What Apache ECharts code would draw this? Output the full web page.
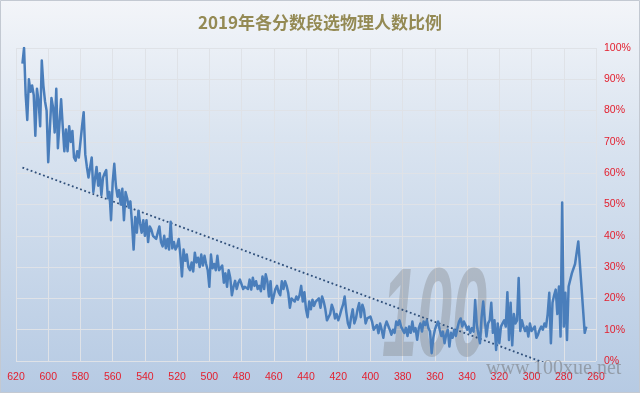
<!DOCTYPE html>
<html>
<head>
<meta charset="utf-8">
<script src="https://cdn.jsdelivr.net/npm/echarts@6/dist/echarts.min.js"></script>
<style>
html,body{margin:0;padding:0;background:#fff;}
#chart{width:640px;height:393px;}
</style>
</head>
<body>
<div id="chart"></div>
<script>
// Scores (x) and ratio of physics choosers in % (y)
const scores = [
616,615,614,613,612,611,610,609,608,607,606,605,604,603,602,601,600,599,598,597,596,595,594,593,592,591,590,589,588,587,586,585,584,583,582,581,580,579,578,577,576,575,574,573,572,571,570,569,568,567,566,565,564,563,562,561,560,559,558,557,556,555,554,553,552,551,550,549,
548,547,546,545,544,543,542,541,540,539,538,537,536,535,534,533,532,531,530,529,528,527,526,525,524,523,522,521,520,519,518,517,516,515,514,513,512,511,510,509,508,507,506,505,504,503,502,501,500,499,498,497,496,495,494,493,492,491,490,489,488,487,486,485,484,483,482,481,480,479,478,
477,476,475,474,473,472,471,470,469,468,467,466,465,464,463,462,461,460,459,458,457,456,455,454,453,452,451,450,449,448,447,446,445,444,443,442,441,440,439,438,437,436,435,434,433,432,431,430,429,428,427,426,425,424,423,422,421,420,419,418,417,416,415,414,413,412,411,410,409,408,407,406,405,
404,403,402,401,400,399,398,397,396,395,394,393,392,391,390,389,388,387,386,385,384,383,382,381,380,379,378,377,376,375,374,373,372,371,370,369,368,367,366,365,364,363,362,361,360,359,358,357,356,355,354,353,352,351,350,349,348,347,346,345,344,343,342,341,340,339,338,337,336,335,334,
333,332,331,330,329,328,327,326,325,324,323,322,321,320,319,318,317,316,315,314,313,312,311,310,309,308,307,306,305,304,303,302,301,300,299,298,297,296,295,294,293,292,291,290,289,288,287,286,285,284,283,
282,281,280,279,278,277,275,273,271,267,266
];
const ratios = [
95,100,85,77,90,86,88,85,72,87,83,75,96,88,83,80,63.5,74,84,81,73,87,68,76,83.6,75,67,74,67,75,70,73.5,65,64,67,65,70,75,79.5,66,62,58.6,59,65,54,58,62,56,60,53,58.6,60,61,52,54,45,57,63,56,52.5,54.6,50,55,45,54,52,49,51,
44,35.6,46,41,48,44,41,45,40,45,38,43,42,40,40.5,39,39,43,38,36.6,40,36,39,35.6,44.5,36,38,35.6,36.7,39,34,27,35.6,32,34,30,29,31.5,28.6,34.6,31.5,33,30,34,30.5,33.6,31,29,23.7,34,29.6,31,29,33.6,29,28.6,30.5,25,28,23.7,29,26.5,21,23.7,25.6,23,25,26,25.6,23,23.7,
23.8,23,26,22.8,26.6,24,25.5,23,24,22.3,27,23,27.7,25.5,20.6,25.5,18.5,18,23,24,22,21,25.5,23,25.5,24,21.7,17,20,20.6,19,20.6,19.6,21,24,19,22,16.5,14,19,16.5,19.6,17.6,19,18.5,20,17,20.6,19,16.5,13,14,15,18,16.5,13.6,15,13,14.6,16.5,18,20.6,15.7,12,10.6,14,16.5,12,13.6,16.5,18.5,14,18,
16.3,12,13.6,13,14.2,12.6,10,9.4,11.5,8.9,12,10,7.4,11,12.6,12,10,8.4,10,9,12.6,11.5,13,11,11.5,9,10.6,8,11,9,12.6,9.4,10.5,6.8,10.5,12,9.4,12.6,11.5,13,10.5,9.4,2.5,7.4,10,11.5,12.6,10,8,9.4,5.7,8.4,10,4.6,9,7.4,10,8,10.5,12.6,13.6,11,12.6,11.5,10,11,9,10.5,9.4,19.5,11.5,
11,5.7,14,19,13,7.8,12,13,18.6,9,13,3.5,12,5.7,11,12,13,11,22,6.7,18.6,5,15,12,13,26.5,9.6,13,11,9.6,11,7.8,12,9.6,9,11,7.4,8.4,10,11,10,12,11,15,21.8,5.7,18.6,21,22.8,15,23.8,
7.8,50.6,11,21.8,6.7,23.8,28,31,38.2,9,11
];
// Linear trend line end points (score, %)
const trendScores = [616, 266];
const trendRatios = [61.8, -5.6];
// Axis ticks
const xTicks = [620,600,580,560,540,520,500,480,460,440,420,400,380,360,340,320,300,280,260];
const yTicks = [0,10,20,30,40,50,60,70,80,90,100];

const chart = echarts.init(document.getElementById('chart'), null, {renderer:'canvas'});
const lineData = scores.map((s,i)=>[s, ratios[i]]);
const trendData = trendScores.map((s,i)=>[s, trendRatios[i]]);
const labelColor = '#e3202f';

chart.setOption({
  animation:false,
  backgroundColor:{
    type:'linear', x:0, y:0, x2:0, y2:1,
    colorStops:[{offset:0,color:'#f3f5f9'},{offset:0.35,color:'#dae4f0'},{offset:1,color:'#b6cae3'}]
  },
  title:{
    text:'2019年各分数段选物理人数比例',
    left:'center', top:9,
    textStyle:{fontFamily:'Noto Sans CJK SC', fontSize:17, fontWeight:'bold', color:'#948a54'}
  },
  grid:{left:16, right:44, top:48, bottom:32},
  xAxis:{
    type:'value', inverse:true,
    min:xTicks[xTicks.length-1], max:xTicks[0], interval:20,
    axisLine:{show:false}, axisTick:{show:false},
    axisLabel:{color:labelColor, fontSize:10.5, fontFamily:'Liberation Sans', margin:11},
    splitLine:{show:true, lineStyle:{color:'#dfe2e7', width:1}}
  },
  yAxis:{
    type:'value', position:'right',
    min:yTicks[0], max:yTicks[yTicks.length-1], interval:10,
    axisLine:{show:false}, axisTick:{show:false},
    axisLabel:{color:labelColor, fontSize:10.5, fontFamily:'Liberation Sans', margin:8, formatter:'{value}%'},
    splitLine:{show:true, lineStyle:{color:'#dfe2e7', width:1}}
  },
  graphic:[
    {type:'text', left:382, top:258, z:1, silent:true,
      style:{text:'100', fontSize:126, fontStyle:'italic', fontWeight:'bold', fontFamily:'Liberation Sans', fill:'rgba(120,120,120,0.32)'},
      scaleX:0.5},
    {type:'text', left:486, top:359, z:1, silent:true,
      style:{text:'www.100xue.net', fontSize:20, fontFamily:'Liberation Serif', fill:'rgba(110,110,110,0.5)'}},
    {type:'rect', shape:{x:0.5,y:0.5,width:639,height:392}, z:100, silent:true,
      style:{fill:'none', stroke:'#c3c9d2', lineWidth:1}}
  ],
  series:[
    {type:'line', data:lineData, showSymbol:false, symbol:'none', z:5,
      lineStyle:{color:'#4a7ebb', width:2.5, join:'round'}},
    {type:'line', data:trendData, showSymbol:false, symbol:'none', z:4, clip:true,
      lineStyle:{color:'#2f4f7a', width:1.8, type:[1.8,2.6], cap:'butt'}}
  ]
});
</script>
</body>
</html>
